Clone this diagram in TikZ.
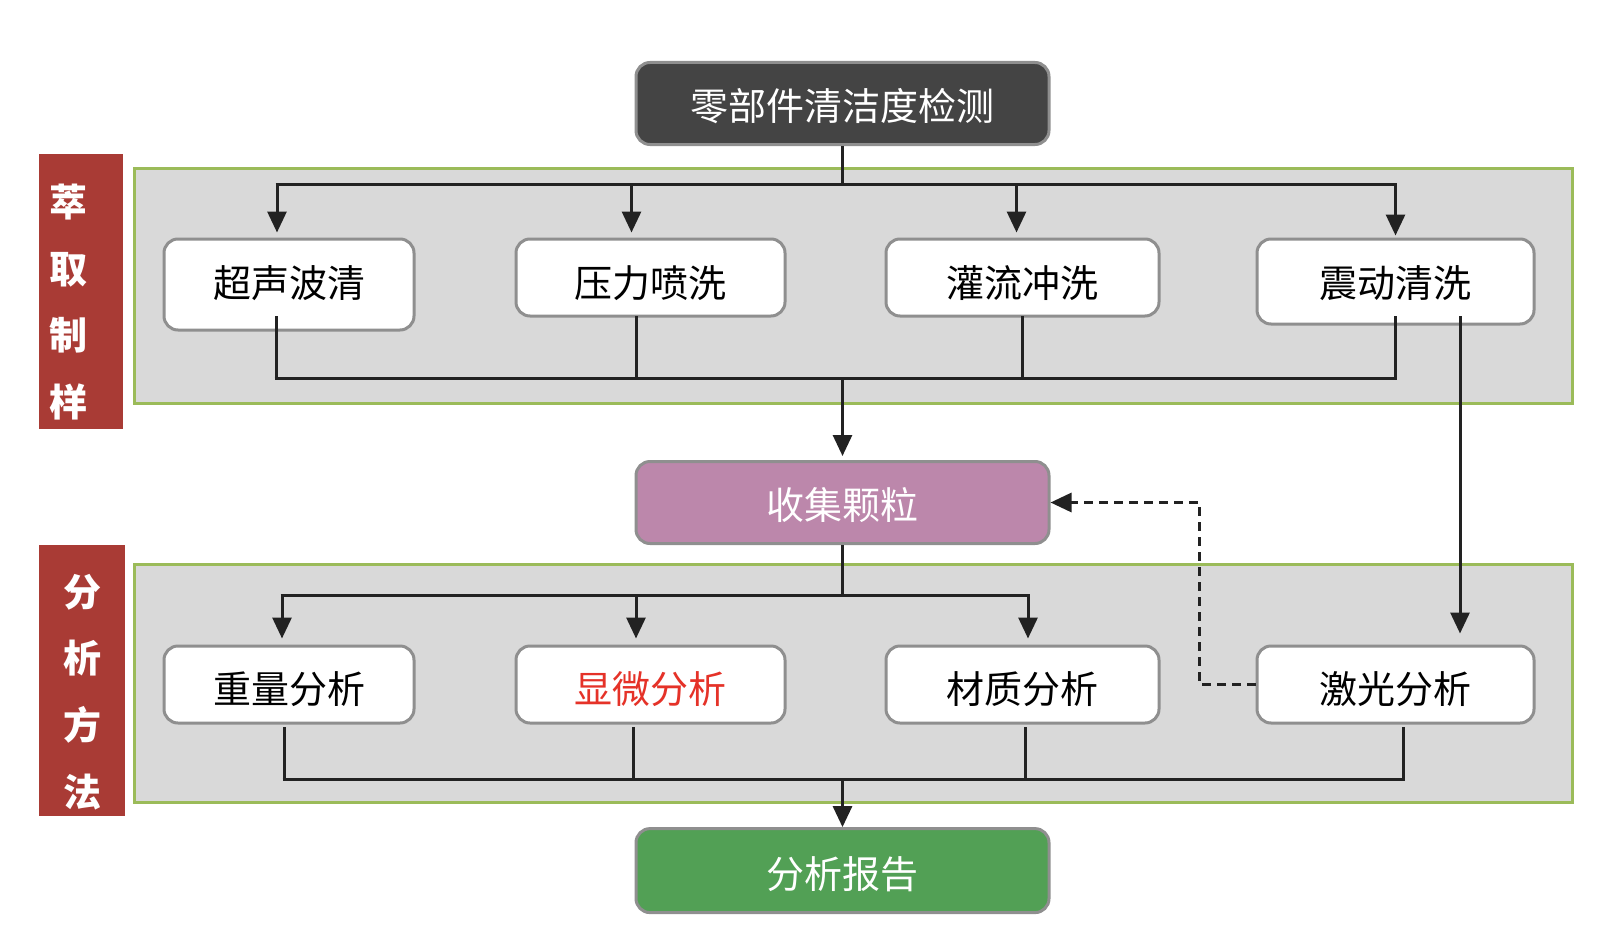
\documentclass[tikz,border=0pt]{standalone}
\usepackage{fontspec}
\setmainfont{Noto Sans CJK SC}
\usetikzlibrary{arrows.meta}

\definecolor{panelgray}{RGB}{217,217,217}
\definecolor{panelgreen}{RGB}{155,187,89}
\definecolor{tagred}{RGB}{169,59,53}
\definecolor{boxline}{RGB}{143,143,143}
\definecolor{headgray}{RGB}{68,68,68}
\definecolor{mauve}{RGB}{188,135,171}
\definecolor{repgreen}{RGB}{82,160,85}
\definecolor{wirecol}{RGB}{34,34,34}
\definecolor{hired}{RGB}{229,50,40}

\tikzset{every picture/.style={line width=0.75pt}}
\tikzset{
  panel/.style={draw=panelgreen, fill=panelgray, line width=3pt, inner sep=0pt},
  tag/.style={fill=tagred, inner sep=0pt},
  tagtext/.style={text=white, align=center, inner sep=0pt, font=\fontsize{38}{66.7}\selectfont\bfseries},
  card/.style={draw=boxline, fill=white, rounded corners=14pt, line width=3pt, inner sep=0pt,
    text height=40pt, text depth=2pt, font=\fontsize{38}{40}\selectfont},
  head/.style={card, fill=headgray, text=white},
  wire/.style={draw=wirecol, line width=3pt},
  arr/.style={wire, -{Triangle[length=21pt,width=19pt]}},
  dasharr/.style={arr, dash pattern=on 9pt off 6pt},
}

\begin{document}
\begin{tikzpicture}[x=1pt,y=1pt,yscale=-1,xscale=1]
\useasboundingbox (0,0) rectangle (1608,934);

%Shape: Rectangle (panels)
\node[panel, minimum width=1438pt, minimum height=235pt] (panA) at (853,285.5) {};
\node[panel, minimum width=1438pt, minimum height=238pt] (panB) at (853,683) {};

%Shape: Rectangle (side tags)
\node[tag, minimum width=84pt, minimum height=275pt] (tagA) at (81,291.5) {};
\node[tagtext] (tagAtxt) at (68.7,302) {萃\\取\\制\\样};
\node[tag, minimum width=86pt, minimum height=271.5pt] (tagB) at (82,680.3) {};
\node[tagtext] (tagBtxt) at (82,692) {分\\析\\方\\法};

%Shape: Rounded Rect (steps)
\node[head, text depth=6pt, minimum width=413pt, minimum height=82pt] (top) at (842.5,103.5) {零部件清洁度检测};
\node[card, text depth=14pt, minimum width=250pt, minimum height=91pt] (a1) at (289,284.5) {超声波清};
\node[card, text depth=0pt, minimum width=269pt, minimum height=77pt] (a2) at (650.5,277.5) {压力喷洗};
\node[card, text depth=0pt, minimum width=273pt, minimum height=77pt] (a3) at (1022.5,277.5) {灌流冲洗};
\node[card, text depth=8pt, minimum width=277pt, minimum height=85pt] (a4) at (1395.5,281.5) {震动清洗};
\node[card, text depth=6pt, fill=mauve, text=white, minimum width=413pt, minimum height=82pt] (coll) at (842.5,502.5) {收集颗粒};
\node[card, minimum width=250pt, minimum height=77pt] (b1) at (289,684.5) {重量分析};
\node[card, text=hired, minimum width=269pt, minimum height=77pt] (b2) at (650.5,684.5) {显微分析};
\node[card, minimum width=273pt, minimum height=77pt] (b3) at (1022.5,684.5) {材质分析};
\node[card, minimum width=277pt, minimum height=77pt] (b4) at (1395.5,684.5) {激光分析};
\node[card, text depth=4pt, fill=repgreen, text=white, minimum width=413pt, minimum height=84pt] (rep) at (842.5,870.6) {分析报告};

%Bus levels
\coordinate (busA) at (0,184.6);
\coordinate (stemA) at (0,316);
\coordinate (sumA) at (0,378.4);
\coordinate (busB) at (0,595);
\coordinate (stemB) at (0,727);
\coordinate (sumB) at (0,779);

%Straight Lines (top split)
\draw[wire] (top.south) -- (top.south |- busA);
\draw[wire] ([xshift=-13.5pt]a1.north |- busA) -- ([xshift=1.5pt]a4.north |- busA);
\draw[arr, shorten >=5pt] ([xshift=-12pt]a1.north |- busA) -- ([xshift=-12pt]a1.north);
\draw[arr, shorten >=5pt] ([xshift=-19pt]a2.north |- busA) -- ([xshift=-19pt]a2.north);
\draw[arr, shorten >=5pt] ([xshift=-6pt]a3.north |- busA) -- ([xshift=-6pt]a3.north);
\draw[arr, shorten >=2pt] (a4.north |- busA) -- (a4.north);

%Straight Lines (top merge)
\draw[wire] ([xshift=-13pt]a1.south |- stemA) -- ([xshift=-13pt]a1.south |- sumA);
\draw[wire] ([xshift=-14pt]a2.south |- stemA) -- ([xshift=-14pt]a2.south |- sumA);
\draw[wire] (a3.south |- stemA) -- (a3.south |- sumA);
\draw[wire] (a4.south |- stemA) -- (a4.south |- sumA);
\draw[wire] ([xshift=-14.5pt]a1.south |- sumA) -- ([xshift=1.5pt]a4.south |- sumA);
\draw[arr, shorten >=4pt] (coll.north |- sumA) -- (coll.north);

%Straight Lines (side path)
\draw[arr, shorten >=11pt] ([xshift=64.5pt]a4.south |- stemA) -- ([xshift=64.5pt]b4.north);
\draw[dasharr] (b4.west) -- ++(-56,0) |- (coll.east);

%Straight Lines (bottom split)
\draw[wire] (coll.south) -- (coll.south |- busB);
\draw[wire] ([xshift=-8.5pt]b1.north |- busB) -- ([xshift=7pt]b3.north |- busB);
\draw[arr, shorten >=6pt] ([xshift=-7pt]b1.north |- busB) -- ([xshift=-7pt]b1.north);
\draw[arr, shorten >=6pt] ([xshift=-14.5pt]b2.north |- busB) -- ([xshift=-14.5pt]b2.north);
\draw[arr, shorten >=6pt] ([xshift=5.5pt]b3.north |- busB) -- ([xshift=5.5pt]b3.north);

%Straight Lines (bottom merge)
\draw[wire] ([xshift=-5pt]b1.south |- stemB) -- ([xshift=-5pt]b1.south |- sumB);
\draw[wire] ([xshift=-17.5pt]b2.south |- stemB) -- ([xshift=-17.5pt]b2.south |- sumB);
\draw[wire] ([xshift=3pt]b3.south |- stemB) -- ([xshift=3pt]b3.south |- sumB);
\draw[wire] ([xshift=7.5pt]b4.south |- stemB) -- ([xshift=7.5pt]b4.south |- sumB);
\draw[wire] ([xshift=-6.5pt]b1.south |- sumB) -- ([xshift=9pt]b4.south |- sumB);
\draw[arr] (rep.north |- sumB) -- (rep.north);

\end{tikzpicture}
\end{document}
